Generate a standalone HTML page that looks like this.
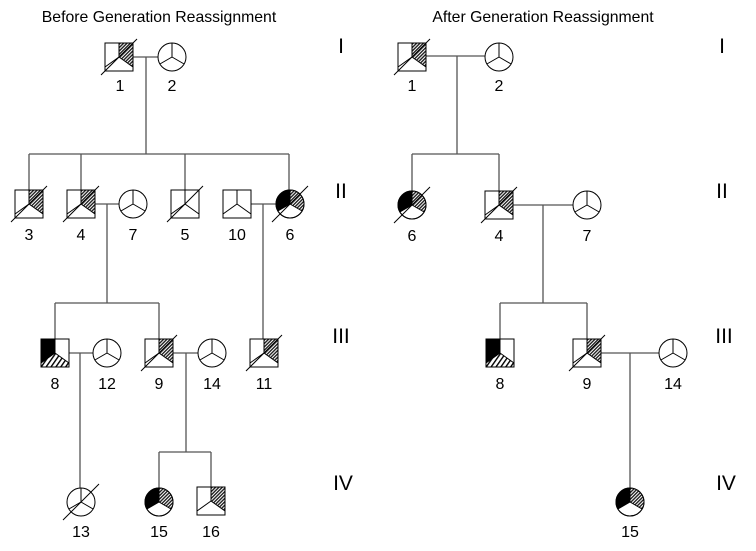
<!DOCTYPE html>
<html><head><meta charset="utf-8"><style>
html,body{margin:0;padding:0;background:#fff}
svg{display:block}
text{font-family:"Liberation Sans",Arial,sans-serif;fill:#000}
</style></head><body>
<svg width="756" height="551" viewBox="0 0 756 551" xmlns="http://www.w3.org/2000/svg">
<defs>
<pattern id="h" patternUnits="userSpaceOnUse" width="2.4" height="2.4" patternTransform="rotate(45)">
<rect width="2.4" height="2.4" fill="#fff"/><rect width="1.4" height="2.4" fill="#222"/></pattern>
<pattern id="s" patternUnits="userSpaceOnUse" width="4" height="4" patternTransform="rotate(35)">
<rect width="4" height="4" fill="#fff"/><rect width="1.4" height="4" fill="#000"/></pattern>
<g id="sqE"><rect x="-14" y="-14" width="28" height="28" fill="#fff" stroke="#000" stroke-width="1"/>
<path d="M0,-14 L0,0 M0,0 L-14,10 M0,0 L14,10" stroke="#000" fill="none"/></g>
<g id="sqH"><rect x="-14" y="-14" width="28" height="28" fill="#fff" stroke="#000"/>
<polygon points="0,-14 14,-14 14,10 0,0" fill="url(#h)"/>
<path d="M0,-14 L0,0 M0,0 L-14,10 M0,0 L14,10" stroke="#000" fill="none"/>
<rect x="-14" y="-14" width="28" height="28" fill="none" stroke="#000"/></g>
<g id="sq8"><rect x="-14" y="-14" width="28" height="28" fill="#fff" stroke="#000"/>
<polygon points="0,-14 -14,-14 -14,10 0,0" fill="#000"/>
<polygon points="-14,10 -14,14 14,14 14,10 0,0" fill="url(#s)"/>
<path d="M0,-14 L0,0 M0,0 L-14,10 M0,0 L14,10" stroke="#000" fill="none"/>
<rect x="-14" y="-14" width="28" height="28" fill="none" stroke="#000"/></g>
<g id="cE"><circle r="14" fill="#fff" stroke="#000"/>
<path d="M0,-14 L0,0 L-12.1,7 M0,0 L12.1,7" stroke="#000" fill="none"/></g>
<g id="cBH"><circle r="14" fill="#fff" stroke="#000"/>
<path d="M0,0 L0,-14 A14,14 0 0,0 -12.1,7 Z" fill="#000"/>
<path d="M0,0 L0,-14 A14,14 0 0,1 12.1,7 Z" fill="url(#h)"/>
<path d="M0,-14 L0,0 L-12.1,7 M0,0 L12.1,7" stroke="#000" fill="none"/>
<circle r="14" fill="none" stroke="#000"/></g>
<path id="d" d="M-18,18 L18,-18" stroke="#000" stroke-width="1"/>
</defs>

<g stroke="#555" stroke-width="1.3" fill="none">
<path d="M133,57 H158 M146,57 V154 M29,154 H289 M29,154 V190 M81,154 V190 M185,154 V190 M289,154 V190"/>
<path d="M95,204 H119 M107,204 V303 M55,303 H159 M55,303 V339 M159,303 V339"/>
<path d="M251,204 H276 M263,204 V339"/>
<path d="M68,353 H93 M80,353 V488"/>
<path d="M173,353 H198 M186,353 V452 M159,452 H211 M159,452 V488 M211,452 V488"/>
<path d="M426,56 H485 M457,56 V154 M412,154 H499 M412,154 V191 M499,154 V191"/>
<path d="M513,205 H573 M543,205 V303 M500,303 H587 M500,303 V339 M587,303 V339"/>
<path d="M601,353 H659 M630,353 V488"/>
</g>

<use href="#sqH" x="119" y="57"/><use href="#d" x="119" y="57"/>
<use href="#cE" x="172" y="57"/>
<use href="#sqH" x="29" y="204"/><use href="#d" x="29" y="204"/>
<use href="#sqH" x="81" y="204"/><use href="#d" x="81" y="204"/>
<use href="#cE" x="133" y="204"/>
<use href="#sqE" x="185" y="204"/><use href="#d" x="185" y="204"/>
<use href="#sqE" x="237" y="204"/>
<use href="#cBH" x="290" y="204"/><use href="#d" x="290" y="204"/>
<use href="#sq8" x="55" y="353"/>
<use href="#cE" x="107" y="353"/>
<use href="#sqH" x="159" y="353"/><use href="#d" x="159" y="353"/>
<use href="#cE" x="212" y="353"/>
<use href="#sqH" x="264" y="353"/><use href="#d" x="264" y="353"/>
<use href="#cE" x="81" y="502"/><use href="#d" x="81" y="502"/>
<use href="#cBH" x="159" y="502"/>
<use href="#sqH" x="211" y="501"/>

<use href="#sqH" x="412" y="57"/><use href="#d" x="412" y="57"/>
<use href="#cE" x="499" y="57"/>
<use href="#cBH" x="412" y="205"/><use href="#d" x="412" y="205"/>
<use href="#sqH" x="499" y="205"/><use href="#d" x="499" y="205"/>
<use href="#cE" x="587" y="205"/>
<use href="#sq8" x="500" y="353"/>
<use href="#sqH" x="587" y="353"/><use href="#d" x="587" y="353"/>
<use href="#cE" x="673" y="353"/>
<use href="#cBH" x="630" y="502"/>

<g font-size="15.8" text-anchor="middle">
<text x="159" y="22">Before Generation Reassignment</text>
<text x="543" y="22">After Generation Reassignment</text>
</g>
<g font-size="16" text-anchor="middle">
<text x="120" y="91">1</text><text x="172" y="91">2</text>
<text x="29" y="240">3</text><text x="81" y="240">4</text><text x="133" y="240">7</text>
<text x="185" y="240">5</text><text x="237" y="240">10</text><text x="290" y="240">6</text>
<text x="55" y="389">8</text><text x="107" y="389">12</text><text x="159" y="389">9</text>
<text x="212" y="389">14</text><text x="264" y="389">11</text>
<text x="81" y="537">13</text><text x="159" y="537">15</text><text x="211" y="537">16</text>
<text x="412" y="91">1</text><text x="499" y="91">2</text>
<text x="412" y="241">6</text><text x="499" y="241">4</text><text x="587" y="241">7</text>
<text x="500" y="389">8</text><text x="587" y="389">9</text><text x="673" y="389">14</text>
<text x="630" y="537">15</text>
</g>
<g font-size="21" text-anchor="middle">
<text x="341" y="53">I</text><text x="341" y="198">II</text>
<text x="341" y="343">III</text><text x="343" y="490">IV</text>
<text x="722" y="53">I</text><text x="722" y="198">II</text>
<text x="724" y="343">III</text><text x="726" y="490">IV</text>
</g>
</svg>
</body></html>
